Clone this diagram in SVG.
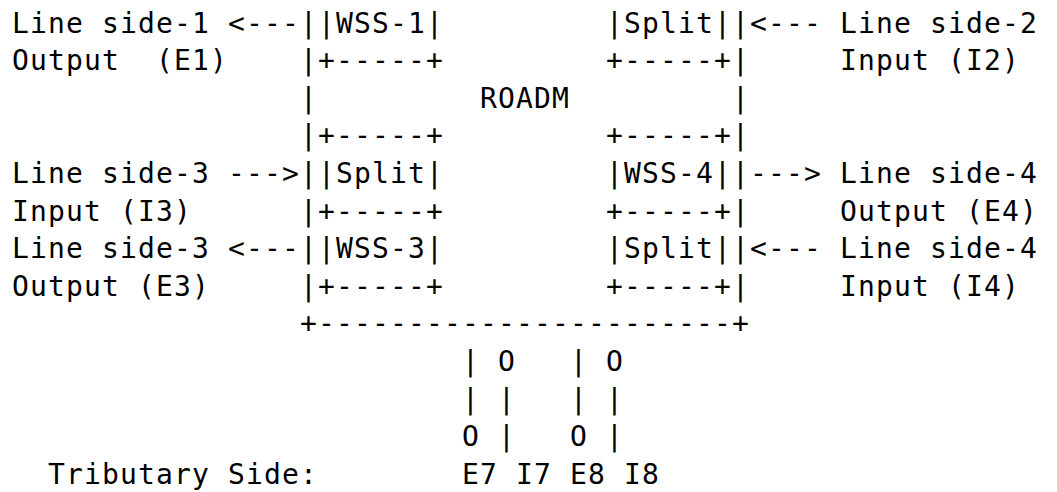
<svg xmlns="http://www.w3.org/2000/svg" width="1057" height="492" viewBox="0 0 1057 492">
  <style>
    text { font-family: "DejaVu Sans Mono", "Liberation Mono", monospace; font-size: 28px; letter-spacing: 1.14px; fill: #000; white-space: pre; }
  </style>
  <rect width="1057" height="492" fill="#fff"/>

  <!-- Grid: column c at x = 12 + 18c, row r baseline at y = 32.5 + 37.6r -->

  <!-- ROADM outer frame -->
  <g id="roadm">
    <text x="300" y="32.5">|</text>
    <text x="300" y="70.1">|</text>
    <text x="300" y="107.7">|</text>
    <text x="300" y="145.3">|</text>
    <text x="300" y="182.9">|</text>
    <text x="300" y="220.5">|</text>
    <text x="300" y="258.1">|</text>
    <text x="300" y="295.7">|</text>
    <text x="732" y="32.5">|</text>
    <text x="732" y="70.1">|</text>
    <text x="732" y="107.7">|</text>
    <text x="732" y="145.3">|</text>
    <text x="732" y="182.9">|</text>
    <text x="732" y="220.5">|</text>
    <text x="732" y="258.1">|</text>
    <text x="732" y="295.7">|</text>
    <text x="480" y="107.7">ROADM</text>
    <text x="300" y="333.3">+-----------------------+</text>
  </g>

  <!-- Inner modules -->
  <g id="wss-1">
    <text x="318" y="32.5">|WSS-1|</text>
    <text x="318" y="70.1">+-----+</text>
  </g>
  <g id="split-2">
    <text x="606" y="32.5">|Split|</text>
    <text x="606" y="70.1">+-----+</text>
  </g>
  <g id="split-3">
    <text x="318" y="145.3">+-----+</text>
    <text x="318" y="182.9">|Split|</text>
    <text x="318" y="220.5">+-----+</text>
  </g>
  <g id="wss-4">
    <text x="606" y="145.3">+-----+</text>
    <text x="606" y="182.9">|WSS-4|</text>
    <text x="606" y="220.5">+-----+</text>
  </g>
  <g id="wss-3">
    <text x="318" y="258.1">|WSS-3|</text>
    <text x="318" y="295.7">+-----+</text>
  </g>
  <g id="split-4">
    <text x="606" y="258.1">|Split|</text>
    <text x="606" y="295.7">+-----+</text>
  </g>

  <!-- Line side labels -->
  <g id="line-side-1">
    <text x="12" y="32.5">Line side-1</text>
    <text x="12" y="70.1">Output  (E1)</text>
  </g>
  <g id="line-side-2">
    <text x="840" y="32.5">Line side-2</text>
    <text x="840" y="70.1">Input (I2)</text>
  </g>
  <g id="line-side-3-in">
    <text x="12" y="182.9">Line side-3</text>
    <text x="12" y="220.5">Input (I3)</text>
  </g>
  <g id="line-side-4-out">
    <text x="840" y="182.9">Line side-4</text>
    <text x="840" y="220.5">Output (E4)</text>
  </g>
  <g id="line-side-3-out">
    <text x="12" y="258.1">Line side-3</text>
    <text x="12" y="295.7">Output (E3)</text>
  </g>
  <g id="line-side-4-in">
    <text x="840" y="258.1">Line side-4</text>
    <text x="840" y="295.7">Input (I4)</text>
  </g>

  <!-- Tributary side -->
  <g id="tributary">
    <text x="48" y="483.7">Tributary Side:</text>
    <text x="462" y="483.7">E7 I7 E8 I8</text>
  </g>

  <!-- Connectors -->
  <g id="connectors">
    <text x="228" y="32.5">&lt;---</text>
    <text x="750" y="32.5">&lt;---</text>
    <text x="228" y="182.9">---&gt;</text>
    <text x="750" y="182.9">---&gt;</text>
    <text x="228" y="258.1">&lt;---</text>
    <text x="750" y="258.1">&lt;---</text>
    <text x="462" y="370.9">| O   | O</text>
    <text x="462" y="408.5">| |   | |</text>
    <text x="462" y="446.1">O |   O |</text>
  </g>
</svg>
